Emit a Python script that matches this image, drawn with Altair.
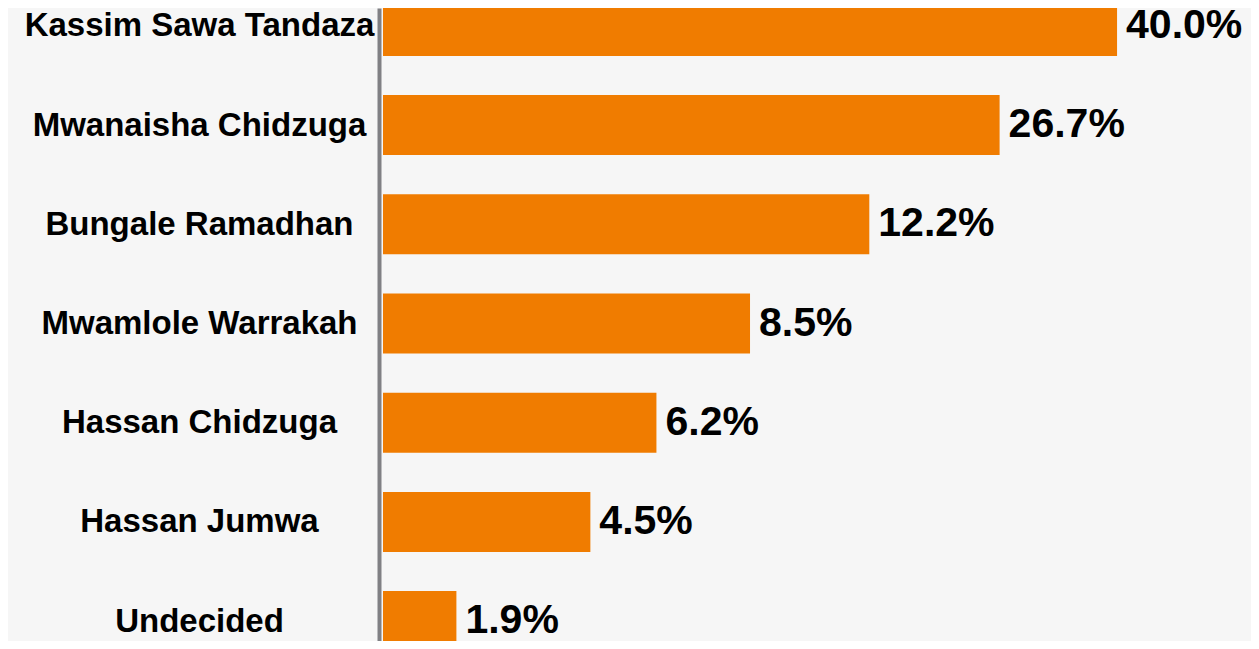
import altair as alt
import pandas as pd

candidates = ["Kassim Sawa Tandaza", "Mwanaisha Chidzuga", "Bungale Ramadhan",
              "Mwamlole Warrakah", "Hassan Chidzuga", "Hassan Jumwa", "Undecided"]
shares = [40.0, 26.7, 12.2, 8.5, 6.2, 4.5, 1.9]
value_labels = ["40.0%", "26.7%", "12.2%", "8.5%", "6.2%", "4.5%", "1.9%"]
# drawn bar lengths (the infographic is not to scale),
# expressed on the same scale as the top bar (40.0)
drawn_length = [40.0, 33.6, 26.5, 20.0, 14.9, 11.3, 4.0]

df = pd.DataFrame({
    "row": list(range(len(candidates))),
    "candidate": candidates,
    "share": shares,
    "label": value_labels,
    "length": drawn_length,
})

names_js = "[" + ",".join('"%s"' % c for c in candidates) + "]"

FONT = "Liberation Sans Narrow, Arial Narrow, Liberation Sans, Arial, sans-serif"

yscale = alt.Scale(domain=[-0.13, 6.15], reverse=True, nice=False, zero=False)
xscale = alt.Scale(domain=[0, 47.19], nice=False, zero=True)

base = alt.Chart(df)

bars = base.mark_bar(color="#F07C00", size=60, clip=True, orient="horizontal").encode(
    x=alt.X("length:Q", scale=xscale, axis=None),
    y=alt.Y("row:Q", scale=yscale,
            axis=alt.Axis(values=list(range(len(candidates))),
                          labelExpr=names_js + "[datum.value]",
                          title=None, ticks=False, tickSize=0, grid=False,
                          domain=True, domainColor="#808084", domainWidth=4,
                          offset=4, labelPadding=180, labelAlign="center",
                          labelBaseline="middle",
                          labelFont=FONT, labelFontSize=33,
                          labelFontWeight="bold", labelColor="#000000",
                          labelLimit=500)),
    tooltip=["candidate:N", "share:Q"],
)

texts = base.mark_text(align="left", baseline="middle", dx=9,
                       font=FONT, fontSize=41,
                       fontWeight="bold", color="#000000").encode(
    x=alt.X("length:Q", scale=xscale),
    y=alt.Y("row:Q", scale=yscale),
    text="label:N",
)

chart = alt.layer(bars, texts).properties(
    width=866, height=633,
    autosize=alt.AutoSizeParams(type="none"),
    padding={"left": 375, "top": 0, "right": 2, "bottom": 0},
    background="#f6f6f6",
).configure_view(stroke=None)

chart.save("out.html", embed_options={"renderer": "svg", "actions": False})
